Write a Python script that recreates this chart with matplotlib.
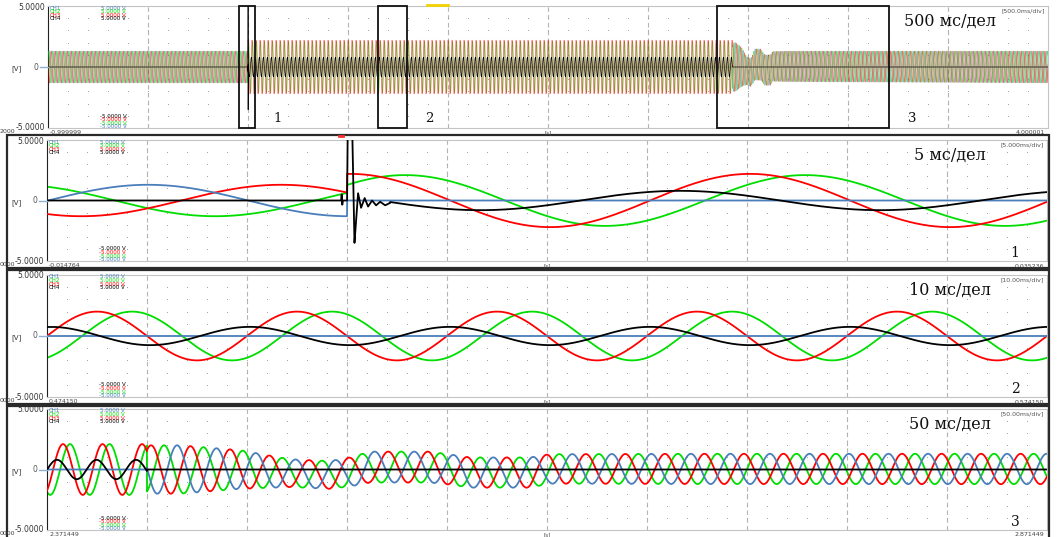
import numpy as np
import matplotlib.pyplot as plt
from matplotlib.patches import Rectangle
from matplotlib.lines import Line2D

plt.rcParams['font.family'] = ['DejaVu Sans']

W, H = 1057, 537

# channels of the recorder
ch_names = ['CH1', 'CH2', 'CH3', 'CH4']
ch_colors = ['#4a7ebb', '#00dd00', '#ff0000', '#000000']
ch_top = ['5.0000 V', '5.0000 V', '5.0000 V', '5.0000 V']
ch_bottom = ['-5.0000 V', '-5.0000 V', '-5.0000 V', '-5.0000 V']

# the four time windows (s) and their captions
t_start = [-0.999999, -0.014764, 0.474150, 2.371449]
t_end = [4.000001, 0.035236, 0.574150, 2.871449]
div_text = ['[500.0ms/div]', '[5.000ms/div]', '[10.00ms/div]', '[50.00ms/div]']
scale_text = ['500 мс/дел', '5 мс/дел', '10 мс/дел', '50 мс/дел']
zoom_num = ['', '1', '2', '3']
corner_text = ['2000', '0000', '0000', '0000']

# events (s)
t_fault = 0.00024
t_reclose = 2.4214
f_net = 50.0
f_late = 50.6

# before the fault: amplitude (V) and time of a positive peak (s)
pre_amp = [1.3, 1.3, 1.3, 0.0]
pre_peak = [-0.00971, -0.01636, -0.00306, 0.0]
# after the fault, as read in window 1
fault_amp = [0.0, 2.1, 2.2, 0.8]
fault_peak = [0.0, 0.00314, 0.00039, 0.01689]
# same dead time, as read in window 2
dead_amp = [0.0, 2.0, 2.0, 0.75]
dead_peak = [0.0, 0.48265, 0.47915, 0.47445]
# just before reclosing, as read in window 3
late_amp = [0.0, 2.1, 2.1, 0.8]
late_peak = [0.0, 2.38295, 2.37945, 2.37645]
# after reclosing: peaks of CH1..CH3, envelope and dc shift
rec_peak = [2.77245, 2.76595, 2.75945, 0.0]
rec_env_t = [2.4214, 2.4379, 2.4679, 2.4929, 2.5129, 2.5229, 2.5329,
             2.5629, 2.5729, 2.5829, 2.6129, 2.6229, 2.6979, 4.0]
rec_env_a = [2.0, 2.0, 1.6, 1.15, 1.15, 1.2, 1.28, 1.28, 1.25, 1.25,
             1.25, 1.22, 1.25, 1.3]
rec_env_dc = [0.0, 0.0, 0.0, -0.3, -0.45, -0.2, 0.2, 0.2, 0.0, -0.25,
              -0.25, 0.05, 0.05, 0.0]
# CH4 transient around the fault instant (ms from fault, V)
spike_ms = [-0.30, -0.27, -0.24, -0.21, 0.00, 0.03, 0.22, 0.25, 0.37, 0.55,
            0.70, 0.88, 1.05, 1.25, 1.45, 1.65, 1.90, 2.15]
spike_v = [0.0, 0.5, -0.35, 0.0, 0.0, 6.5, 6.5, 6.5, -3.5, 0.6,
           -0.6, 0.2, -0.5, 0.0, -0.4, -0.1, -0.4, -0.2]

dead_sets = [(fault_amp, fault_peak, f_net), (fault_amp, fault_peak, f_net),
             (dead_amp, dead_peak, f_net), (late_amp, late_peak, f_late)]

# pixel boxes of the plot areas and of the window frames
plot_box = [(48, 6, 1048, 128), (47, 140, 1047, 261),
            (47, 275, 1047, 397), (47, 409, 1047, 530)]
frame_box = [None, (7, 134.5, 1049, 267.5), (7, 270, 1049, 403.5),
             (7, 406, 1049, 545)]


def wave(amp, peak, f, t):
    return amp * np.cos(2 * np.pi * f * (t - peak))


def channels(t, i):
    d_amp, d_peak, d_f = dead_sets[i]
    env_a = np.interp(t, rec_env_t, rec_env_a)
    env_dc = np.interp(t, rec_env_t, rec_env_dc)
    dt = (t - t_fault) * 1000
    in_spike = (dt >= spike_ms[0]) & (dt <= spike_ms[-1])
    spike = np.interp(dt, spike_ms, spike_v)
    out = []
    for k in range(4):
        y = np.where(t < t_fault, wave(pre_amp[k], pre_peak[k], f_net, t),
                     wave(d_amp[k], d_peak[k], d_f, t))
        if k < 3:
            rec = env_a * np.cos(2 * np.pi * f_late * (t - rec_peak[k])) + env_dc
            y = np.where(t >= t_reclose, rec, y)
        else:
            y = np.where(t >= t_reclose, 0.0, y)
            y = np.where(in_spike, spike, y)
        out.append(y)
    return out


fig = plt.figure(figsize=(W / 100, H / 100), dpi=100)


def ftxt(x, y, s, **kw):
    fig.text(x / W, 1 - y / H, s, **kw)


def fline(xs, ys, **kw):
    fig.add_artist(Line2D([x / W for x in xs], [1 - y / H for y in ys],
                          transform=fig.transFigure, **kw))


for i in range(4):
    x0, y0, x1, y1 = plot_box[i]
    yc = (y0 + y1) / 2
    ax = fig.add_axes([x0 / W, 1 - y1 / H, (x1 - x0) / W, (y1 - y0) / H])
    ax.set_xlim(t_start[i], t_end[i])
    ax.set_ylim(-5, 5)
    ax.set_xticks([])
    ax.set_yticks([])
    for side in ['top', 'right', 'bottom']:
        ax.spines[side].set_color('#c4c4c4')
    ax.spines['left'].set_color('#202020')

    span = t_end[i] - t_start[i]
    for k in range(1, 10):
        ax.axvline(t_start[i] + k * span / 10, color='#b4b4b4', lw=0.8,
                   ls=(0, (4, 3)), zorder=0)
    gx = t_start[i] + span * np.arange(1, 50) / 50
    for gy in [-4, -3, -2, -1, 1, 2, 3, 4]:
        ax.scatter(gx, np.full(gx.shape, gy), s=0.5, color='#a0a0a0',
                   linewidths=0, zorder=0)

    n = 14000 if i == 0 else 8000
    t = np.linspace(t_start[i], t_end[i], n)
    t = np.union1d(t, t_fault + np.array(spike_ms) / 1000)
    ys = channels(t, i)
    if i == 0:
        order, lw, alpha = [0, 1, 2, 3], 0.5, 0.6
    else:
        order, lw, alpha = [1, 2, 0, 3], 1.3, 1.0
    for z, k in enumerate(order):
        ax.plot(t, ys[k], color=ch_colors[k], lw=lw, zorder=2 + z,
                alpha=1.0 if k == 3 else alpha)

    # axis captions in the recorder style
    ftxt(x0 - 3, y0 + 1, '5.0000', ha='right', va='center', fontsize=5.5,
         color='#333333')
    ftxt(x0 - 3, y1, '-5.0000', ha='right', va='center', fontsize=5.5,
         color='#333333')
    ftxt(x0 - 12, yc, '0', ha='center', va='center', fontsize=5.5,
         color='#555555')
    fline([x0 - 8, x0], [yc, yc], color='#8fb0d8', lw=1)
    ftxt(16, yc + 2, '[V]', ha='center', va='center', fontsize=5,
         color='#333333')
    ftxt(x0 + 2, y1 + 4.5, f'{t_start[i]:.6f}', ha='left', va='center',
         fontsize=4.5, color='#444444')
    ftxt(x1 - 3, y1 + 5, f'{t_end[i]:.6f}', ha='right', va='center',
         fontsize=4.5, color='#444444')
    ftxt(x0 + 500, y1 + 4.5, '[s]', ha='center', va='center', fontsize=4,
         color='#444444')
    ftxt(0, y1 + 3.5, corner_text[i], ha='left', va='center', fontsize=4.5,
         color='#444444')
    ftxt(x1 - 3, y0 + 5, div_text[i], ha='right', va='center', fontsize=4.5,
         color='#555555')
    ftxt(950, y0 + 15, scale_text[i], ha='center', va='center',
         fontsize=11.5, family='DejaVu Serif', color='#111111')
    if zoom_num[i]:
        ftxt(1015, y1 - 8, zoom_num[i], ha='center', va='center',
             fontsize=10, family='DejaVu Serif', color='#111111')

    # channel legend, top and bottom
    for r, k in enumerate(range(4)):
        ftxt(x0 + 2, y0 + 2 + 3.6 * r, ch_names[k], ha='left', va='center',
             fontsize=4, color=ch_colors[k])
        ftxt(x0 + 53, y0 + 2 + 3.6 * r, ch_top[k], ha='left', va='center',
             fontsize=4, color=ch_colors[k])
    for r, k in enumerate([3, 2, 1, 0]):
        ftxt(x0 + 52, y1 - 12 + 3.6 * r, ch_bottom[k], ha='left',
             va='center', fontsize=4, color=ch_colors[k])

    if frame_box[i]:
        fx0, fy0, fx1, fy1 = frame_box[i]
        fig.add_artist(Rectangle((fx0 / W, 1 - fy1 / H), (fx1 - fx0) / W,
                                 (fy1 - fy0) / H, transform=fig.transFigure,
                                 fill=False, ec='#2a2a2a', lw=1.6))

# zoom windows marked on the overview
for bx0, bx1, lab, lx in [(239, 255, '1', 278), (378, 407, '2', 429),
                          (717, 889, '3', 912)]:
    fig.add_artist(Rectangle((bx0 / W, 1 - 128 / H), (bx1 - bx0) / W,
                             122 / H, transform=fig.transFigure, fill=False,
                             ec='#111111', lw=1.3))
    ftxt(lx, 119, lab, ha='center', va='center', fontsize=9.5,
         family='DejaVu Serif', color='#111111')

# trigger marks
fline([427, 448], [4.5, 4.5], color='#f2d200', lw=2)
fline([339, 343], [136, 136], color='#ff3030', lw=2)

fig.savefig('out.png', dpi=100, facecolor='white')
